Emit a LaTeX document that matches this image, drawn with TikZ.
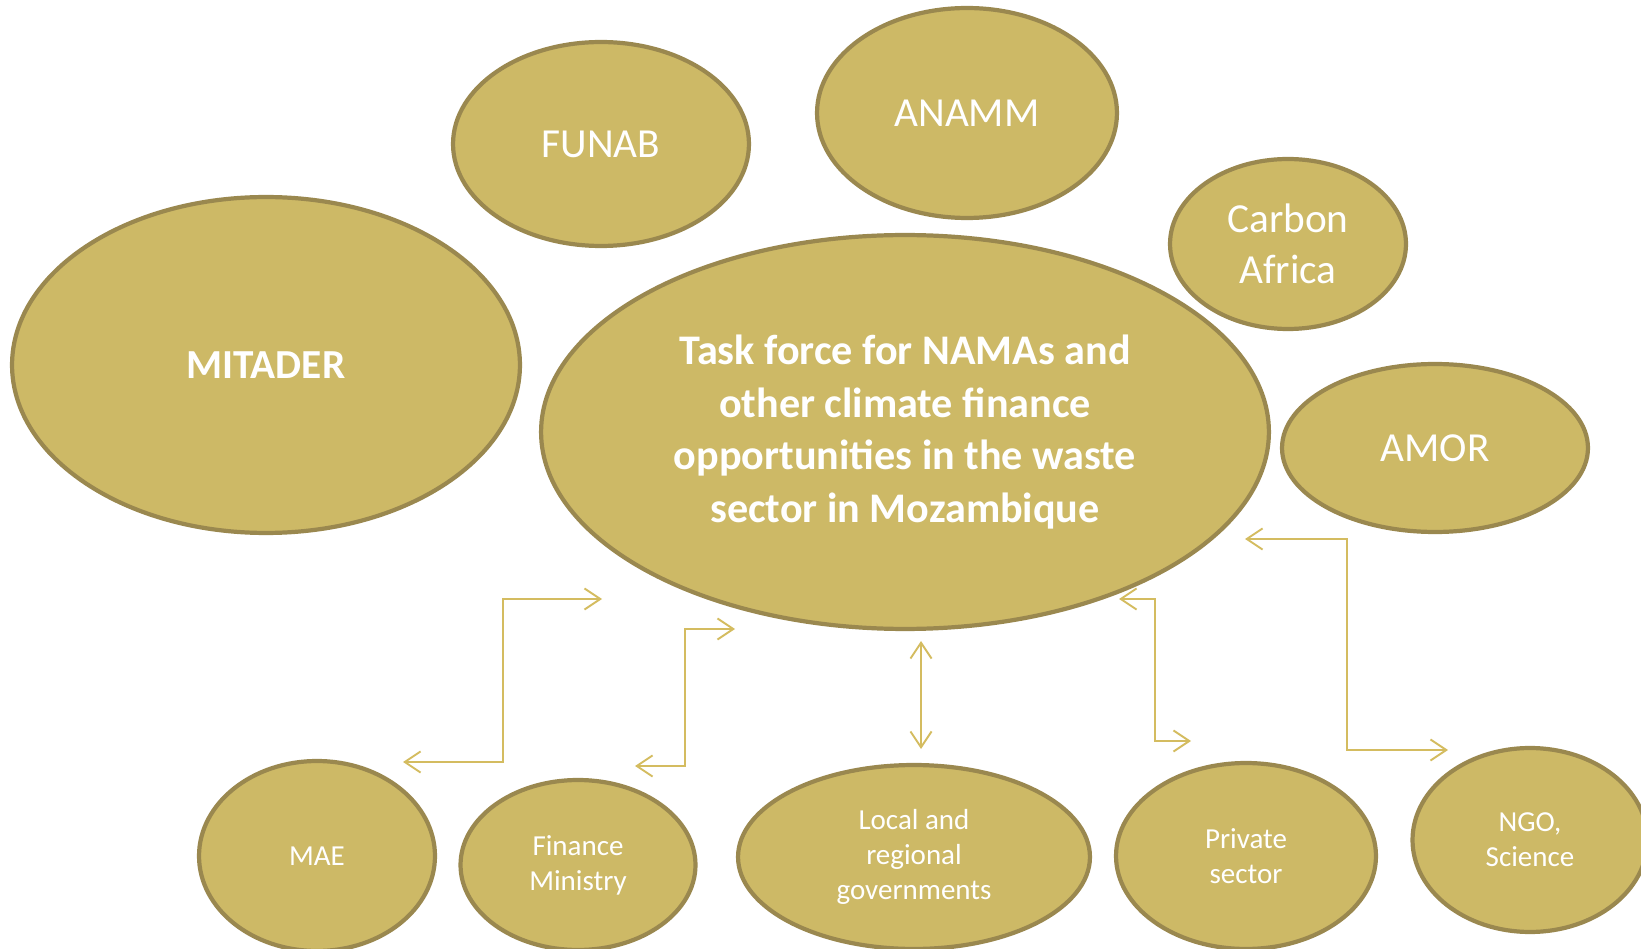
\documentclass[tikz,border=0pt]{standalone}
\usepackage{fontspec}
\setmainfont{Carlito}
\usetikzlibrary{shapes.geometric,arrows.meta}
\definecolor{goldfill}{RGB}{205,185,102}
\definecolor{goldline}{RGB}{154,136,79}
\definecolor{goldarrow}{RGB}{212,188,96}
\begin{document}
\begin{tikzpicture}[x=0.02cm,y=-0.02cm]
\tikzset{
  blob/.style={ellipse,draw=goldline,fill=goldfill,line width=2.4pt,
    inner sep=0pt,text=white,align=center},
  bigtxt/.style={font=\fontsize{23.5}{29}\selectfont},
  smalltxt/.style={font=\fontsize{16.5}{20}\selectfont},
  link/.style={draw=goldarrow,line width=1.1pt,
    {Straight Barb[length=9pt,width=12pt]}-{Straight Barb[length=9pt,width=12pt]}},
}

\useasboundingbox (0,0) rectangle (1641,949);

%% top row
\node[blob,bigtxt,font=\bfseries\fontsize{23.5}{29}\selectfont,minimum width=10.16cm,minimum height=6.72cm] (mitader) at (266,365) {MITADER};
\node[blob,bigtxt,minimum width=5.92cm,minimum height=4.08cm] (funab) at (601,144) {FUNAB};
\node[blob,bigtxt,minimum width=6.0cm,minimum height=4.2cm] (anamm) at (967,113) {ANAMM};
\node[blob,bigtxt,minimum width=4.72cm,minimum height=3.4cm] (carbon) at (1288,244) {Carbon\\Africa};
\node[blob,bigtxt,minimum width=6.12cm,minimum height=3.36cm] (amor) at (1435,448) {AMOR};

%% task force
\node[blob,font=\bfseries\fontsize{24}{30}\selectfont,minimum width=14.56cm,minimum height=7.88cm] (task) at (905,432)
  {Task force for NAMAs and\\other climate finance\\opportunities in the waste\\sector in Mozambique};

%% bottom row
\node[blob,smalltxt,minimum width=4.72cm,minimum height=3.8cm] (mae) at (317,856) {MAE};
\node[blob,smalltxt,minimum width=4.7cm,minimum height=3.4cm] (finance) at (578,865) {Finance\\Ministry};
\node[blob,smalltxt,minimum width=7.04cm,minimum height=3.68cm] (local) at (914,857) {Local and\\regional\\governments};
\node[blob,smalltxt,minimum width=5.2cm,minimum height=3.72cm] (private) at (1246,856) {Private\\sector};
\node[blob,smalltxt,minimum width=4.7cm,minimum height=3.68cm] (ngo) at (1530,840) {NGO,\\Science};

%% arrow ends
\coordinate (maeEnd) at (403,762);
\coordinate (taskMae) at (602,599);
\coordinate (finEnd) at (635,766);
\coordinate (taskFin) at (735,629);
\coordinate (locEnd) at (921,749);
\coordinate (taskLoc) at (921,641);
\coordinate (taskPriv) at (1119,599);
\coordinate (privEnd) at (1191,741);
\coordinate (taskNgo) at (1245,539);
\coordinate (ngoEnd) at (1448,750);

%% connectors
\draw[link] (maeEnd) -- ++(100,0) |- (taskMae);
\draw[link] (finEnd) -- ++(50,0) |- (taskFin);
\draw[link] (taskLoc) -- (locEnd);
\draw[link] (taskPriv) -- ++(36,0) |- (privEnd);
\draw[link] (taskNgo) -- ++(102,0) |- (ngoEnd);
\end{tikzpicture}
\end{document}
